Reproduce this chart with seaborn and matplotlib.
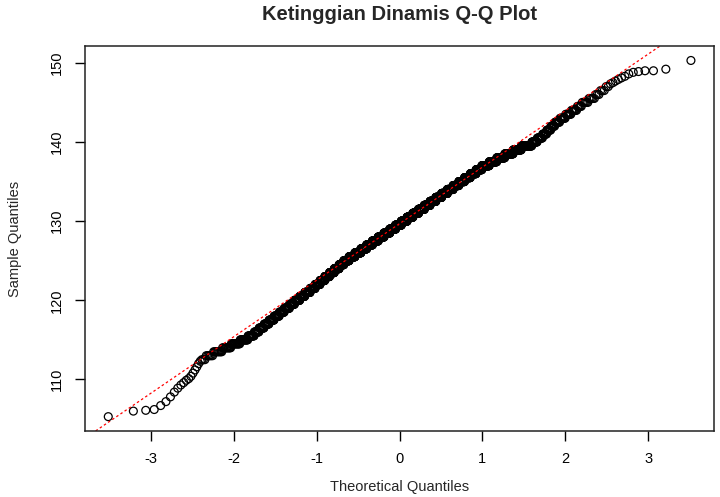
import numpy as np
import pandas as pd
import matplotlib
matplotlib.use("Agg")
import matplotlib.pyplot as plt
import seaborn as sns
from statistics import NormalDist

# --- DATA ---
# lowest readings, one by one
low_tail = [105.3, 106.0, 106.1, 106.2, 106.7, 107.2, 107.8, 108.4, 108.9, 109.3,
            109.6, 109.9, 110.1, 110.4, 110.8, 111.2, 111.6, 112.0, 112.3]

# middle of the sample: heights rounded to 0.5 and how often each occurs
mid_heights = [112.5, 113.0, 113.5, 114.0, 114.5, 115.0, 115.5, 116.0, 116.5, 117.0,
               117.5, 118.0, 118.5, 119.0, 119.5, 120.0, 120.5, 121.0, 121.5, 122.0,
               122.5, 123.0, 123.5, 124.0, 124.5, 125.0, 125.5, 126.0, 126.5, 127.0,
               127.5, 128.0, 128.5, 129.0, 129.5, 130.0, 130.5, 131.0, 131.5, 132.0,
               132.5, 133.0, 133.5, 134.0, 134.5, 135.0, 135.5, 136.0, 136.5, 137.0,
               137.5, 138.0, 138.5, 139.0, 139.5, 140.0, 140.5, 141.0, 141.5, 142.0,
               142.5, 143.0, 143.5, 144.0, 144.5, 145.0, 145.5, 146.0, 146.5, 147.0]
mid_counts = [3, 6, 9, 11, 14, 15, 14, 12, 14, 15,
              17, 19, 20, 23, 24, 27, 28, 32, 32, 33,
              34, 36, 38, 40, 40, 48, 55, 58, 58, 60,
              62, 62, 63, 64, 64, 64, 63, 62, 62, 60,
              59, 57, 55, 53, 50, 48, 46, 43, 40, 48,
              44, 42, 39, 33, 36, 16, 14, 10, 9, 8,
              9, 9, 8, 7, 5, 6, 5, 3, 3, 2]

# highest readings, one by one
high_tail = [147.35, 147.5, 147.7, 147.9, 148.1, 148.3, 148.6, 148.8, 148.9,
             149.0, 149.0, 149.2, 150.3]

# --- Q-Q COMPUTATION ---
sample = np.sort(np.concatenate([low_tail, np.repeat(mid_heights, mid_counts), high_tail]))
n = len(sample)
nd = NormalDist()
probs = (np.arange(1, n + 1) - 0.5) / n          # R ppoints() for n > 10
theo = np.array([nd.inv_cdf(p) for p in probs])
df = pd.DataFrame({"Theoretical": theo, "Sample": sample})

# qqline: through the first and third quartiles
q_y = np.quantile(sample, [0.25, 0.75])
q_x = [nd.inv_cdf(0.25), nd.inv_cdf(0.75)]

# --- PLOT ---
sns.set_style("ticks")
plt.rcParams["font.family"] = ["Liberation Sans", "DejaVu Sans"]

fig, ax = plt.subplots(figsize=(7.2, 4.97), dpi=100)
fig.subplots_adjust(left=0.118, right=0.992, bottom=0.133, top=0.907)

sns.scatterplot(data=df, x="Theoretical", y="Sample", ax=ax, marker="o", s=32,
                facecolor="none", edgecolor="black", linewidth=0.9)
ax.axline((q_x[0], q_y[0]), (q_x[1], q_y[1]), color="red", lw=0.9, ls=(0, (2, 2)))

ax.margins(x=0.04, y=0.04)
ax.set_xticks([-3, -2, -1, 0, 1, 2, 3])
ax.set_xticklabels(["-3", "-2", "-1", "0", "1", "2", "3"])
ax.set_yticks([110, 120, 130, 140, 150])
ax.set_yticklabels(["110", "120", "130", "140", "150"], rotation=90, va="center")
ax.tick_params(axis="both", direction="out", length=7, width=1, colors="black",
               labelsize=10.5, pad=8)
for s in ax.spines.values():
    s.set_visible(True)
    s.set_color("#222222")
    s.set_linewidth(1.1)

ax.set_xlabel("Theoretical Quantiles", fontsize=10.5)
ax.set_ylabel("Sample Quantiles", fontsize=10.5)
ax.xaxis.set_label_coords(0.5, -0.128)
ax.yaxis.set_label_coords(-0.1, 0.5)

fig.text(0.555, 1 - 14 / 497, "Ketinggian Dinamis Q-Q Plot", ha="center", va="center",
         fontsize=14.5, fontweight="bold")

plt.savefig("out.png", dpi=100)
